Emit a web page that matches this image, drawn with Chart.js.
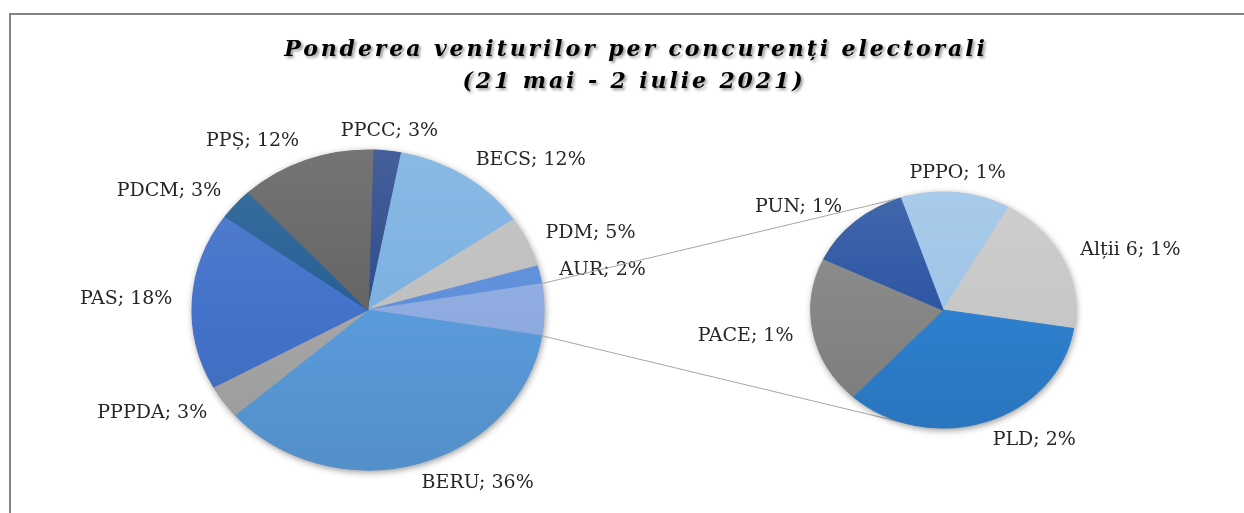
<!DOCTYPE html>
<html><head><meta charset="utf-8">
<script src="https://cdn.jsdelivr.net/npm/chart.js@4/dist/chart.umd.min.js"></script>
<style>
html,body{margin:0;padding:0;background:#fff;overflow:hidden}
#wrap{position:relative;width:1244px;height:513px;overflow:hidden}
#frame{position:absolute;left:9px;top:13px;width:1300px;height:600px;border-top:2px solid #858585;border-left:2px solid #858585;box-sizing:border-box}
canvas{position:absolute;left:0;top:0}
</style></head><body>
<div id="wrap"><div id="frame"></div>
<canvas id="c1" width="1244" height="513"></canvas>
<canvas id="c2" width="1244" height="513"></canvas>
</div>
<script>
// ---- data ----
const titleLines = ['Ponderea veniturilor per concurenți electorali', '(21 mai - 2 iulie 2021)'];
const mainLabels = ['PPCC', 'BECS', 'PDM', 'AUR', 'BERU', 'PPPDA', 'PAS', 'PDCM', 'PPȘ'];
const mainValues = [2.6, 12.4, 5.1, 1.8, 36.0, 3.4, 17.9, 3.2, 12.3];
const mainColors = ['#2f4d8e', '#7db1e1', '#c0c0c0', '#5f8fdb', '#5a9bdb', '#a6a6a6', '#4472ca', '#265f95', '#656565'];
const otherColor = '#8fabe0';
const otherIndex = 4; // position of the grouped slice in the main pie
const secLabels = ['PPPO', 'Alții 6', 'PLD', 'PACE', 'PUN'];
const secValues = [0.70, 1.00, 1.79, 1.05, 0.66];
const secColors = ['#9fc5e8', '#c8c8c8', '#2e7fcf', '#868686', '#2d56a3'];

// build library tables
const otherValue = secValues.reduce((a, b) => a + b, 0);
const mainData = mainValues.slice(); mainData.splice(otherIndex, 0, otherValue);
const mainNames = mainLabels.slice(); mainNames.splice(otherIndex, 0, '');
const mainCols = mainColors.slice(); mainCols.splice(otherIndex, 0, otherColor);

function shade(hex, amt) {
  const n = parseInt(hex.slice(1), 16);
  let r = (n >> 16) & 255, g = (n >> 8) & 255, b = n & 255;
  const f = v => Math.max(0, Math.min(255, Math.round(amt >= 0 ? v + (255 - v) * amt : v * (1 + amt))));
  return `rgb(${f(r)},${f(g)},${f(b)})`;
}
function gradFill(cols) {
  return function (c) {
    const chart = c.chart, area = chart.chartArea, base = cols[c.dataIndex];
    if (!area) return base;
    const g = chart.ctx.createLinearGradient(0, area.top, 0, area.bottom);
    g.addColorStop(0, shade(base, 0.1));
    g.addColorStop(0.5, base);
    g.addColorStop(1, shade(base, -0.08));
    return g;
  };
}

const labelFont = '19px "DejaVu Serif"';
const labelColor = '#262626';

function ellipsePlugin(sx, names, values, skipIndex, extraBefore) {
  return {
    id: 'ellipse',
    beforeDatasetsDraw(chart) {
      const a = chart.getDatasetMeta(0).data[0];
      const ctx = chart.ctx, cx = a.x, cy = a.y, r = a.outerRadius;
      if (extraBefore) extraBefore(chart);
      ctx.save();
      ctx.translate(cx, cy); ctx.scale(sx, 1);
      ctx.beginPath(); ctx.arc(0, 0, r, 0, Math.PI * 2);
      ctx.shadowColor = 'rgba(0,0,0,0.45)'; ctx.shadowBlur = 7;
      ctx.shadowOffsetX = 1; ctx.shadowOffsetY = 2;
      ctx.fillStyle = '#888'; ctx.fill();
      ctx.restore();
      ctx.save();
      ctx.translate(cx, cy); ctx.scale(sx, 1); ctx.translate(-cx, -cy);
    },
    afterDatasetsDraw(chart) {
      const ctx = chart.ctx;
      ctx.restore();
      const meta = chart.getDatasetMeta(0);
      ctx.save();
      ctx.font = labelFont; ctx.fillStyle = labelColor; ctx.textBaseline = 'middle';
      meta.data.forEach((a, i) => {
        if (i === skipIndex) return;
        const mid = (a.startAngle + a.endAngle) / 2;
        const rh = a.outerRadius * sx + 20, rv = a.outerRadius + 20;
        const c = Math.cos(mid), s = Math.sin(mid);
        const x = a.x + rh * c, y = a.y + rv * s;
        ctx.textAlign = c > 0.25 ? 'left' : (c < -0.25 ? 'right' : 'center');
        ctx.fillText(names[i] + '; ' + Math.round(values[i]) + '%', x, y);
      });
      ctx.restore();
    }
  };
}

const SX1 = 1.1, SX2 = 1.12;
const chart1 = new Chart(document.getElementById('c1'), {
  type: 'pie',
  data: { labels: mainNames, datasets: [{ data: mainData, backgroundColor: gradFill(mainCols), borderColor: gradFill(mainCols), borderWidth: 1, clip: false, hoverOffset: 0 }] },
  options: {
    responsive: false, animation: false, events: [],
    rotation: 1.6, radius: 160,
    layout: { padding: { left: 208, right: 716, top: 150, bottom: 43 } },
    plugins: { legend: { display: false }, tooltip: { enabled: false }, title: { display: false } }
  },
  plugins: [ellipsePlugin(SX1, mainNames, mainData, otherIndex)]
});

function drawConnectors(chart2) {
  const ctx = chart2.ctx;
  const m = chart1.getDatasetMeta(0).data[otherIndex];
  const s0 = chart2.getDatasetMeta(0).data[0];
  const cx2 = s0.x, cy2 = s0.y, r2 = s0.outerRadius;
  const ends = [[m.startAngle, 1], [m.endAngle, -1]];
  ctx.save();
  ctx.strokeStyle = '#a6a6a6'; ctx.lineWidth = 1;
  ends.forEach(([ang, sign]) => {
    const px = m.x + m.outerRadius * SX1 * Math.cos(ang);
    const py = m.y + m.outerRadius * Math.sin(ang);
    const qx = (px - cx2) / SX2, qy = py - cy2;
    const d = Math.hypot(qx, qy), phi = Math.atan2(qy, qx), alpha = Math.acos(r2 / d);
    const t = phi + sign * alpha;
    const tx = cx2 + SX2 * r2 * Math.cos(t), ty = cy2 + r2 * Math.sin(t);
    ctx.beginPath(); ctx.moveTo(px, py); ctx.lineTo(tx, ty); ctx.stroke();
  });
  ctx.restore();
}

const titlePlugin = {
  id: 'titleDraw',
  afterDraw(chart) {
    const ctx = chart.ctx;
    ctx.save();
    ctx.font = 'italic bold 22px "DejaVu Serif"';
    ctx.letterSpacing = '2.9px';
    ctx.fillStyle = '#000'; ctx.textAlign = 'center'; ctx.textBaseline = 'alphabetic';
    ctx.shadowColor = 'rgba(0,0,0,0.4)'; ctx.shadowBlur = 3; ctx.shadowOffsetX = 2; ctx.shadowOffsetY = 2;
    ctx.fillText(titleLines[0], 636, 56);
    ctx.fillText(titleLines[1], 634, 88);
    ctx.restore();
  }
};

const chart2 = new Chart(document.getElementById('c2'), {
  type: 'pie',
  data: { labels: secLabels, datasets: [{ data: secValues, backgroundColor: gradFill(secColors), borderColor: gradFill(secColors), borderWidth: 1, clip: false, hoverOffset: 0 }] },
  options: {
    responsive: false, animation: false, events: [],
    rotation: -18.7, radius: 118,
    layout: { padding: { left: 825, right: 183, top: 192, bottom: 85 } },
    plugins: { legend: { display: false }, tooltip: { enabled: false }, title: { display: false } }
  },
  plugins: [ellipsePlugin(SX2, secLabels, secValues, -1, drawConnectors), titlePlugin]
});
</script>
</body></html>
